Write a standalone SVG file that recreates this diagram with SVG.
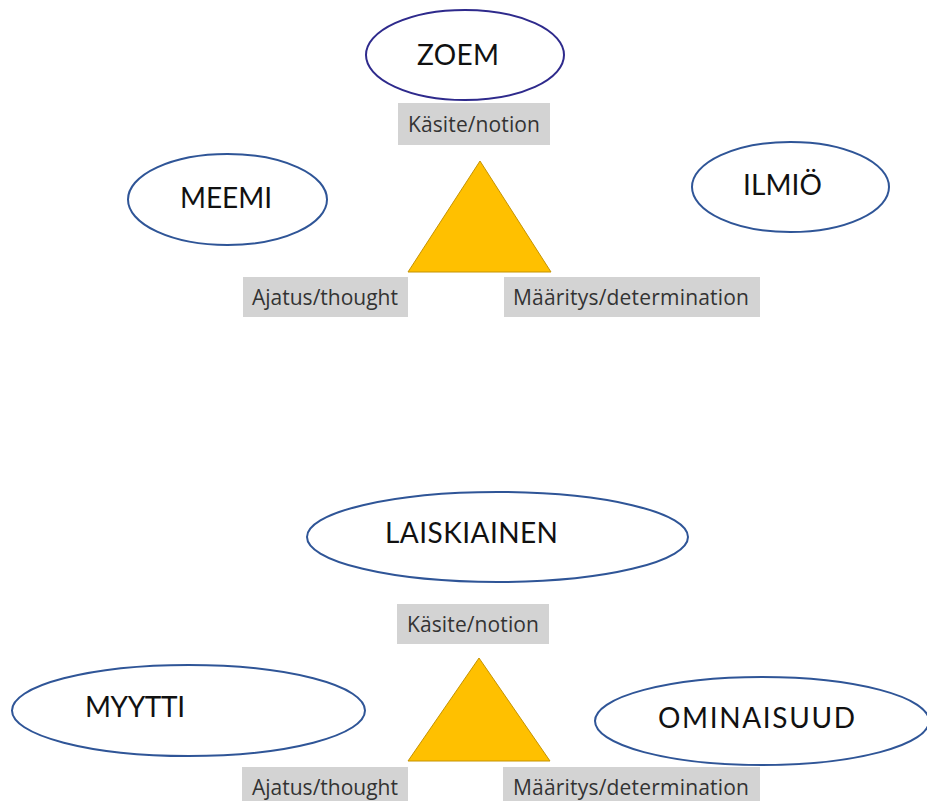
<svg xmlns="http://www.w3.org/2000/svg" width="927" height="801" viewBox="0 0 927 801">
  <style>
    .oval { fill: #ffffff; stroke: #2f5597; stroke-width: 2; }
    .oval.dark { stroke: #2e2a8c; }
    .word { font-family: "Lato", "Open Sans", "Liberation Sans", sans-serif; font-size: 28px; font-weight: 400; fill: #111111; }
    .tag rect { fill: #d3d3d3; }
    .tag text { font-family: "Open Sans", "Liberation Sans", sans-serif; font-size: 21px; font-weight: 500; fill: #333333; }
    .tri { fill: #ffc000; stroke: #c59300; stroke-width: 1; }
  </style>

  <!-- upper triad -->
  <g id="zoem">
    <ellipse class="oval dark" cx="465" cy="55" rx="99" ry="45"/>
    <text class="word" x="417" y="65" textLength="82">ZOEM</text>
  </g>
  <g id="notion-1" class="tag">
    <rect x="398" y="103" width="152" height="42"/>
    <text x="408" y="132" textLength="132">Käsite/notion</text>
  </g>
  <g id="triangle-1">
    <polygon class="tri" points="480,161 408,272 551,272"/>
  </g>
  <g id="meemi">
    <ellipse class="oval" cx="227.5" cy="199.5" rx="99.5" ry="45.5"/>
    <text class="word" x="180" y="208" textLength="92">MEEMI</text>
  </g>
  <g id="ilmio">
    <ellipse class="oval" cx="790.5" cy="187" rx="98.5" ry="45"/>
    <text class="word" x="743" y="195" textLength="79">ILMIÖ</text>
  </g>
  <g id="thought-1" class="tag">
    <rect x="243" y="277" width="165" height="40"/>
    <text x="252" y="305" textLength="146">Ajatus/thought</text>
  </g>
  <g id="determination-1" class="tag">
    <rect x="504" y="277" width="256" height="40"/>
    <text x="513" y="305" textLength="236">Määritys/determination</text>
  </g>

  <!-- lower triad -->
  <g id="laiskiainen">
    <ellipse class="oval" cx="497.5" cy="537" rx="190.5" ry="45"/>
    <text class="word" x="385" y="543" textLength="173">LAISKIAINEN</text>
  </g>
  <g id="notion-2" class="tag">
    <rect x="397" y="604" width="152" height="40"/>
    <text x="407" y="632" textLength="132">Käsite/notion</text>
  </g>
  <g id="triangle-2">
    <polygon class="tri" points="479,658 408,761 550,761"/>
  </g>
  <g id="myytti">
    <ellipse class="oval" cx="188.5" cy="710.5" rx="176.5" ry="45.5"/>
    <text class="word" x="85" y="717" textLength="100">MYYTTI</text>
  </g>
  <g id="ominaisuud">
    <ellipse class="oval" cx="762" cy="721" rx="167" ry="44"/>
    <text class="word" x="658" y="728" textLength="197">OMINAISUUD</text>
  </g>
  <g id="thought-2" class="tag">
    <rect x="242" y="767" width="166" height="40"/>
    <text x="252" y="795" textLength="146">Ajatus/thought</text>
  </g>
  <g id="determination-2" class="tag">
    <rect x="503" y="767" width="257" height="40"/>
    <text x="513" y="795" textLength="236">Määritys/determination</text>
  </g>

  <g id="connectors"/>
</svg>
